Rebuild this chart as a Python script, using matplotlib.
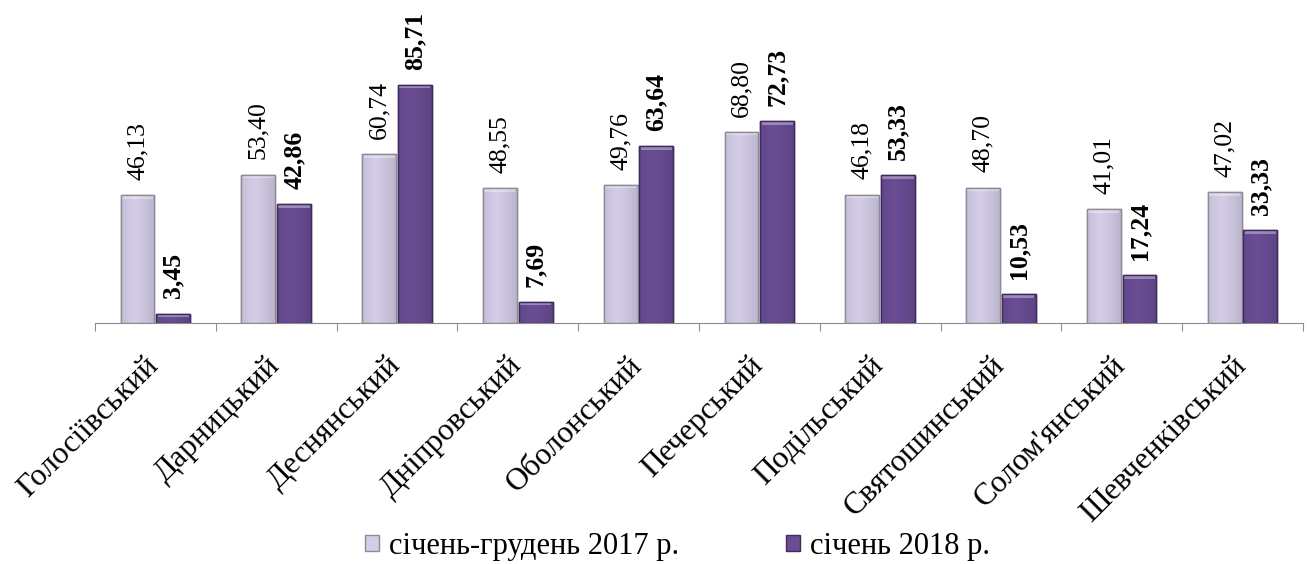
import matplotlib
matplotlib.use("Agg")
import matplotlib.pyplot as plt
import numpy as np
from matplotlib.patches import Patch

categories = ["Голосіївський", "Дарницький", "Деснянський", "Дніпровський", "Оболонський",
              "Печерський", "Подільський", "Святошинський", "Солом'янський", "Шевченківський"]
s2017 = [46.13, 53.40, 60.74, 48.55, 49.76, 68.80, 46.18, 48.70, 41.01, 47.02]
s2018 = [3.45, 42.86, 85.71, 7.69, 63.64, 72.73, 53.33, 10.53, 17.24, 33.33]
labels = ["січень-грудень 2017 р.", "січень 2018 р."]

plt.rcParams['font.family'] = ['Liberation Serif', 'DejaVu Serif']

fig = plt.figure(figsize=(13.08, 5.64), dpi=100)
ax = fig.add_axes([0.0726, 0.427, 0.9235, 0.493])

x = np.arange(len(categories))
w = 0.28
gap = 0.008
light = "#D5CDE8"
dark = "#6A4D95"

def grad_bar(ax, xc, h, color, edge):
    bars = ax.bar(xc, h, w, color=color, edgecolor=edge, linewidth=1.0, zorder=2)
    for b in bars:
        x0, y0 = b.get_x(), b.get_y()
        bw, bh = b.get_width(), b.get_height()
        base = np.array(matplotlib.colors.to_rgb(color))
        t = np.linspace(0, 1, 64)
        shade = 1 - 0.22 * np.abs(t - 0.4) ** 1.2
        img = np.clip(base[None, None, :] * shade[None, :, None], 0, 1)
        im = ax.imshow(img, extent=[x0, x0 + bw, y0, y0 + bh], aspect='auto', zorder=2.1,
                       interpolation='bicubic')
        im.set_clip_path(b)
        top = min(1.3, bh * 0.5)
        ax.bar(x0 + bw / 2, top, bw * 0.92, bottom=y0 + bh - top,
               color="white", alpha=0.35, linewidth=0, zorder=2.2)
    ax.bar(xc, h, w, color="none", edgecolor=edge, linewidth=1.0, zorder=2.3)

grad_bar(ax, x - w / 2 - gap, s2017, light, "#8C8C96")
grad_bar(ax, x + w / 2 + gap, s2018, dark, "#3E2A5C")

for i in range(len(categories)):
    ax.annotate(f"{s2017[i]:.2f}".replace(".", ","), xy=(x[i] - w / 2 - gap, s2017[i]),
                xytext=(0, 11), textcoords='offset points',
                rotation=90, ha='center', va='bottom', fontsize=18.5)
    ax.annotate(f"{s2018[i]:.2f}".replace(".", ","), xy=(x[i] + w / 2 + gap, s2018[i]),
                xytext=(0, 11), textcoords='offset points',
                rotation=90, ha='center', va='bottom', fontsize=18.5, fontweight='bold')

ax.set_xlim(-0.5, len(categories) - 0.5)
ax.set_ylim(0, 100)
for s in ["top", "right", "left"]:
    ax.spines[s].set_visible(False)
ax.spines["bottom"].set_color("#8C8C8C")
ax.set_yticks([])
ax.set_xticks(np.arange(-0.5, len(categories)))
ax.set_xticklabels([])
ax.tick_params(axis='x', length=6, color="#8C8C8C", direction='out')

for i, c in enumerate(categories):
    ax.annotate(c, xy=(x[i], 0), xycoords='data', xytext=(-8, -20), textcoords='offset points',
                rotation=45, ha='right', va='top', rotation_mode='anchor', fontsize=22.5)

handles = [Patch(facecolor=light, edgecolor="#8C8C96"), Patch(facecolor=dark, edgecolor="#3E2A5C")]
fig.legend(handles, labels, loc='center', bbox_to_anchor=(0.518, 0.031), ncol=2, frameon=False,
           fontsize=22, handlelength=0.46, handleheight=0.46, handletextpad=0.33, columnspacing=3.5,
           borderpad=0.1)

fig.savefig("out.png", dpi=100)
